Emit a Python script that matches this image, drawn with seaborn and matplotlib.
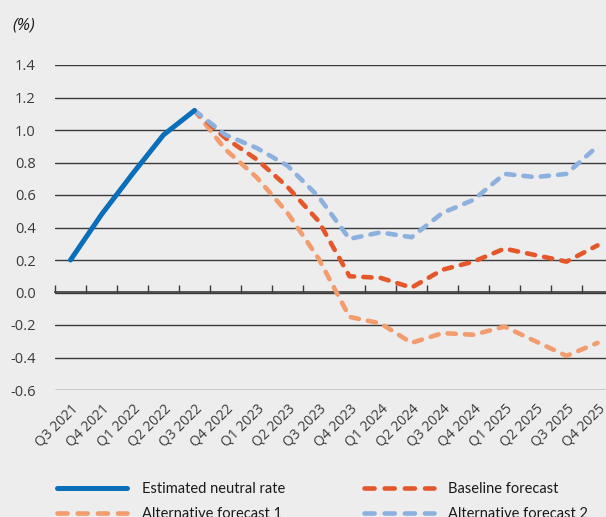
import numpy as np
import pandas as pd
import matplotlib
matplotlib.use("Agg")
import matplotlib.pyplot as plt
from matplotlib.lines import Line2D
import seaborn as sns

quarters = ["Q3 2021", "Q4 2021", "Q1 2022", "Q2 2022", "Q3 2022", "Q4 2022",
            "Q1 2023", "Q2 2023", "Q3 2023", "Q4 2023", "Q1 2024", "Q2 2024",
            "Q3 2024", "Q4 2024", "Q1 2025", "Q2 2025", "Q3 2025", "Q4 2025"]

neutral_rate = [0.20, 0.48, 0.73, 0.97, 1.12] + [None] * 13
baseline = [None] * 4 + [1.12, 0.95, 0.82, 0.65, 0.44, 0.10, 0.09, 0.03,
                         0.14, 0.19, 0.27, 0.23, 0.19, 0.29]
alternative_1 = [None] * 4 + [1.12, 0.88, 0.71, 0.49, 0.21, -0.15, -0.19, -0.31,
                              -0.25, -0.26, -0.21, -0.30, -0.39, -0.31]
alternative_2 = [None] * 4 + [1.12, 0.97, 0.89, 0.78, 0.59, 0.33, 0.37, 0.34,
                              0.49, 0.57, 0.73, 0.71, 0.73, 0.90]

colors = {"Estimated neutral rate": "#0A6FBA",
          "Baseline forecast": "#E4572A",
          "Alternative forecast 1": "#F39C6D",
          "Alternative forecast 2": "#8DB1DE"}
y_ticks = [-0.6, -0.4, -0.2, 0.0, 0.2, 0.4, 0.6, 0.8, 1.0, 1.2, 1.4]

sns.set_theme(style="white")
plt.rcParams["font.family"] = ["Open Sans", "DejaVu Sans"]

bg = "#EDEDED"
ink = "#3a3a3a"
fig = plt.figure(figsize=(6.06, 5.17), dpi=100, facecolor=bg)
ax = fig.add_axes([55 / 606, 1 - 390 / 517, 558 / 606, 325 / 517])
ax.set_facecolor(bg)

x = np.arange(len(quarters))
values = {"Estimated neutral rate": neutral_rate,
          "Baseline forecast": baseline,
          "Alternative forecast 1": alternative_1,
          "Alternative forecast 2": alternative_2}

dash_pattern = (1.8, 2.0)
legend_dashes = (2.2, 2.2)
handles = {}
for name in ["Alternative forecast 1", "Baseline forecast",
             "Alternative forecast 2", "Estimated neutral rate"]:
    df = pd.DataFrame({"x": x, "y": pd.array(values[name], dtype="Float64")}).dropna()
    df["y"] = df["y"].astype(float)
    solid = name == "Estimated neutral rate"
    sns.lineplot(data=df, x="x", y="y", ax=ax, color=colors[name],
                 linewidth=3.6 if solid else 3.3, legend=False, zorder=4 if solid else 3)
    line = ax.lines[-1]
    if solid:
        line.set_solid_capstyle("round")
    else:
        line.set_dashes(dash_pattern)
        line.set_dash_capstyle("round")
    handles[name] = Line2D([], [], color=colors[name], linewidth=line.get_linewidth(),
                           linestyle=line.get_linestyle(),
                           solid_capstyle="round", dash_capstyle="round")
    if not solid:
        handles[name].set_dashes(legend_dashes)

ax.set_xlim(-0.5, len(quarters) - 0.5)
ax.set_ylim(-0.6, 1.4)
ax.set_yticks(y_ticks)
ax.set_yticklabels([f"{v:.1f}" for v in y_ticks], color=ink, fontsize=10.5)
ax.yaxis.grid(True, color="#3a3a3a", linewidth=1.0)
ax.set_axisbelow(True)
ax.tick_params(axis="y", length=0, pad=14)
ax.set_xticks(x)
ax.set_xticklabels(quarters, rotation=45, ha="right", va="top",
                   rotation_mode="anchor", color=ink, fontsize=10)
ax.tick_params(axis="x", length=0, pad=8)
ax.set_xlabel("")
ax.set_ylabel("")
for s in ax.spines.values():
    s.set_visible(False)

# category axis crossing at zero, with boundary tick marks pointing up
zero_axis = ax.secondary_xaxis(0.3)
zero_axis.set_xticks(np.arange(len(quarters) + 1) - 0.5)
zero_axis.tick_params(axis="x", direction="in", length=5, width=1.0,
                      color="#3a3a3a", labelbottom=False)
zero_axis.spines["bottom"].set_color("#3a3a3a")
zero_axis.spines["bottom"].set_linewidth(1.2)

fig.text(12 / 606, 1 - 26 / 517, "(%)", fontsize=12, style="italic",
         color="#1a1a1a", va="center", ha="left")

order = ["Estimated neutral rate", "Alternative forecast 1",
         "Baseline forecast", "Alternative forecast 2"]
fig.legend([handles[n] for n in order], order, ncol=2, frameon=False,
           loc="upper left", bbox_to_anchor=(44 / 606, 1 - 469 / 517),
           prop={"family": ["Lato", "DejaVu Sans"], "size": 10.5},
           handlelength=4.8, handletextpad=1.0,
           columnspacing=5.4, labelspacing=0.75, labelcolor="#1a1a1a")

fig.savefig("out.png", dpi=100, facecolor=bg)
